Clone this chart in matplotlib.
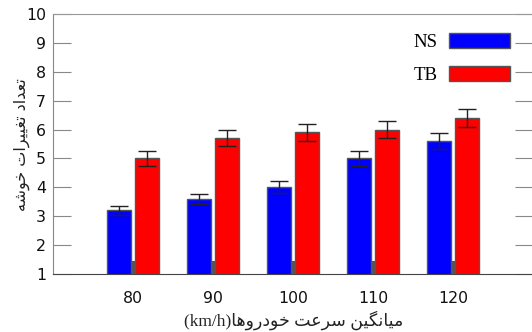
import numpy as np
import matplotlib
matplotlib.use("Agg")
import matplotlib.pyplot as plt

speeds = ["80", "90", "100", "110", "120"]
ns_vals = [3.2, 3.6, 4.0, 5.0, 5.6]
ns_err = [0.16, 0.18, 0.21, 0.25, 0.29]
tb_vals = [5.0, 5.7, 5.9, 6.0, 6.4]
tb_err = [0.26, 0.28, 0.29, 0.30, 0.32]
stub_vals = [1.45, 1.45, 1.45, 1.45, 1.45]
y_ticks = [1, 2, 3, 4, 5, 6, 7, 8, 9, 10]

ylabel_fa = "تعداد تغییرات خوشه"
xlabel_fa = "میانگین سرعت خودروها"
xlabel_unit = "(km/h)"

# arabic presentation forms: iso, fin, ini, med (right-joiners have only iso, fin)
FORMS = {
    "ا": ("\uFE8D", "\uFE8E"),
    "د": ("\uFEA9", "\uFEAA"),
    "ر": ("\uFEAD", "\uFEAE"),
    "و": ("\uFEED", "\uFEEE"),
    "ت": ("\uFE95", "\uFE96", "\uFE97", "\uFE98"),
    "خ": ("\uFEA5", "\uFEA6", "\uFEA7", "\uFEA8"),
    "س": ("\uFEB1", "\uFEB2", "\uFEB3", "\uFEB4"),
    "ش": ("\uFEB5", "\uFEB6", "\uFEB7", "\uFEB8"),
    "ع": ("\uFEC9", "\uFECA", "\uFECB", "\uFECC"),
    "غ": ("\uFECD", "\uFECE", "\uFECF", "\uFED0"),
    "م": ("\uFEE1", "\uFEE2", "\uFEE3", "\uFEE4"),
    "ن": ("\uFEE5", "\uFEE6", "\uFEE7", "\uFEE8"),
    "ه": ("\uFEE9", "\uFEEA", "\uFEEB", "\uFEEC"),
    "ی": ("\uFEEF", "\uFEF0", "\uFEF3", "\uFEF4"),
    "گ": ("\uFB92", "\uFB93", "\uFB94", "\uFB95"),
}


def shape(txt):
    out = []
    for i, ch in enumerate(txt):
        if ch not in FORMS:
            out.append(ch)
            continue
        f = FORMS[ch]
        prev = txt[i - 1] if i > 0 else " "
        nxt = txt[i + 1] if i < len(txt) - 1 else " "
        jp = prev in FORMS and len(FORMS[prev]) == 4
        jn = len(f) == 4 and nxt in FORMS
        if jp and jn:
            out.append(f[3])
        elif jp:
            out.append(f[1])
        elif jn:
            out.append(f[2])
        else:
            out.append(f[0])
    return "".join(out)[::-1]


fig = plt.figure(figsize=(5.32, 3.32), dpi=100)
ax = fig.add_axes([53 / 532, 1 - 274 / 332, 480 / 532, 260 / 332])

x = np.arange(len(speeds))
w = 0.3
off = 0.17
edge = "#555555"
ax.bar(x, stub_vals, 0.04, color="#555555", zorder=2)
ax.bar(x - off, ns_vals, w, color="#0000ff", edgecolor=edge, linewidth=1,
       label="NS", zorder=3)
ax.bar(x + off, tb_vals, w, color="#ff0000", edgecolor=edge, linewidth=1,
       label="TB", zorder=3)
ax.errorbar(x - off, ns_vals, yerr=ns_err, fmt="none", ecolor="#222222",
            elinewidth=1, capsize=6.5, capthick=1, zorder=4)
ax.errorbar(x + off, tb_vals, yerr=tb_err, fmt="none", ecolor="#222222",
            elinewidth=1, capsize=6.5, capthick=1, zorder=4)

ax.set_xlim(-1, 5)
ax.set_ylim(1, 10)
ax.set_yticks(y_ticks)
ax.set_xticks(x)
ax.set_xticklabels(speeds)
ax.tick_params(axis="y", direction="in", length=13, color="#888888",
               right=True, labelsize=11.3, pad=5)
ax.tick_params(axis="x", length=0, labelsize=11.3, pad=12)
for lab in ax.get_yticklabels() + ax.get_xticklabels():
    lab.set_color("#111111")

ax.spines["top"].set_color("#999999")
ax.spines["left"].set_color("#888888")
ax.spines["right"].set_color("#888888")
ax.spines["bottom"].set_color("#444444")

fig.text(22 / 532, 1 - 145 / 332, shape(ylabel_fa), rotation=90,
         ha="center", va="center", fontsize=11.5, family="DejaVu Sans",
         color="#222222")
fig.text(294 / 532, 1 - 320 / 332, xlabel_unit + shape(xlabel_fa),
         ha="center", va="center", fontsize=12.5,
         family=["Liberation Serif", "DejaVu Sans"], color="#222222")

leg = ax.legend(loc="upper right", bbox_to_anchor=(510 / 532, 1 - 33 / 332),
                bbox_transform=fig.transFigure, frameon=False, markerfirst=False,
                prop={"family": "Liberation Serif", "size": 13.5},
                handlelength=3.25, handleheight=0.85, handletextpad=0.6,
                labelspacing=0.82, borderpad=0, borderaxespad=0)

fig.savefig("out.png", dpi=100)
